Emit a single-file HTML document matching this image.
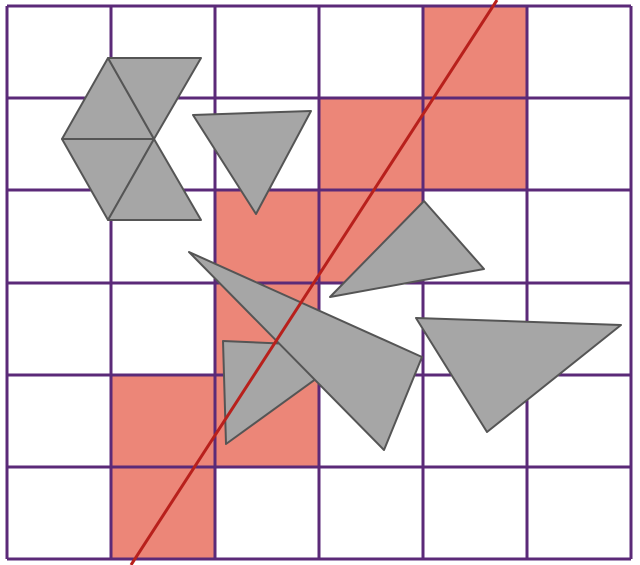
<!DOCTYPE html>
<html><head><meta charset="utf-8"><style>html,body{margin:0;padding:0;background:#fff}svg{display:block}</style></head>
<body>
<svg width="640" height="565" viewBox="0 0 640 565">
<g fill="#ec8678">
<rect x="423" y="6" width="104" height="92"/>
<rect x="319" y="98" width="104" height="92"/>
<rect x="423" y="98" width="104" height="92"/>
<rect x="215" y="190" width="104" height="93"/>
<rect x="319" y="190" width="104" height="93"/>
<rect x="215" y="283" width="104" height="92"/>
<rect x="111" y="375" width="104" height="92"/>
<rect x="215" y="375" width="104" height="92"/>
<rect x="111" y="467" width="104" height="92"/>
</g>
<g stroke="#5b2a78" stroke-width="3" fill="none">
<path d="M7 6V559M111 6V559M215 6V559M319 6V559M423 6V559M527 6V559M631 6V559"/>
<path d="M7 6H631M7 98H631M7 190H631M7 283H631M7 375H631M7 467H631M7 559H631"/>
</g>
<g fill="#a6a6a6" stroke="#555" stroke-width="2" stroke-linejoin="round">
<polygon points="108,58 62,139 154,139"/>
<polygon points="108,58 201,58 154,139"/>
<polygon points="62,139 108,220 154,139"/>
<polygon points="108,220 201,220 154,139"/>
<polygon points="193,115 311,111 256,214"/>
<polygon points="330,297 424,201 484,269"/>
<polygon points="223,341 360,347 226,444"/>
<polygon points="189,252 422,357 384,450"/>
<polygon points="416,318 621,325 487,432"/>
</g>
<line x1="131" y1="565" x2="497" y2="0" stroke="#b8201c" stroke-width="3"/>
</svg>
</body></html>
